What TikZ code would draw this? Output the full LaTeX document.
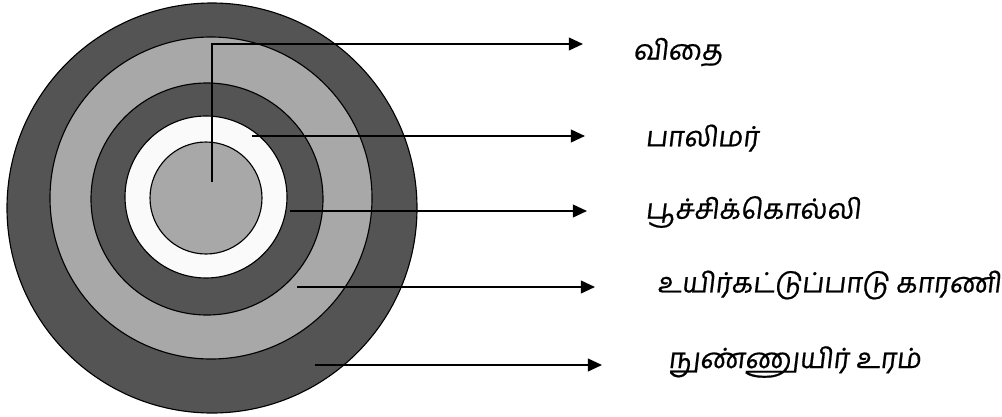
\documentclass[tikz,border=0pt]{standalone}
\usepackage{fontspec}
\newfontfamily\tamilfont[Script=Tamil,FakeSlant=0.12,FakeBold=0.6]{Hind Madurai}
\usetikzlibrary{arrows.meta,positioning}
\definecolor{ringdark}{RGB}{84,84,84}
\definecolor{ringlight}{RGB}{168,168,168}
\definecolor{ringwhite}{RGB}{250,250,250}

\begin{document}
\begin{tikzpicture}[x=0.025cm,y=-0.025cm,
    ring/.style={draw=black,line width=0.8pt},
    pointer/.style={-{Triangle[length=10pt,width=9pt]},line width=1.3pt},
    lbl/.style={font=\tamilfont\fontsize{19.8}{22}\selectfont,anchor=west,inner sep=0pt}]
  \useasboundingbox (0,0) rectangle (1002,416);
  % coating layers, outside in
  \foreach \cx/\cy/\r/\c in {212/208/205/ringdark,211/198/161/ringlight,207/199/116/ringdark,206/197/81/ringwhite,206/198/56/ringlight}
    \draw[ring,fill=\c] (\cx,\cy) circle[radius=\r];
  \coordinate (s1) at (212,182); \coordinate (t1) at (583,44);
  \coordinate (s2) at (252,136); \coordinate (t2) at (585,136);
  \coordinate (s3) at (290,211); \coordinate (t3) at (587,211);
  \coordinate (s4) at (297,287); \coordinate (t4) at (595,287);
  \coordinate (s5) at (315,365); \coordinate (t5) at (602,365);
  \node[lbl] (seed) at (633,52) {விதை};
  \node[lbl] (polymer) at (645,138) {பாலிமர்};
  \node[lbl] (pesticide) at (645,212) {பூச்சிக்கொல்லி};
  \node[lbl] (biocontrol) at (657,285) {உயிர்கட்டுப்பாடு காரணி};
  \node[lbl] (biofert) at (668,362) {நுண்ணுயிர் உரம்};
  \draw[pointer] (s1) |- (t1);
  \foreach \i in {2,...,5} \draw[pointer] (s\i) -- (t\i);
\end{tikzpicture}
\end{document}
